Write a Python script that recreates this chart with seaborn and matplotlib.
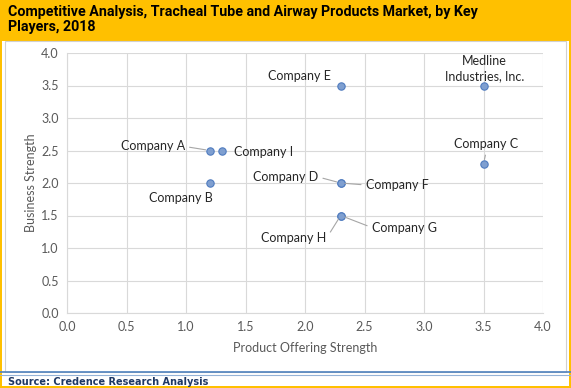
import pandas as pd
import matplotlib
matplotlib.use('Agg')
import matplotlib.pyplot as plt
import seaborn as sns
from matplotlib.patches import Rectangle
from matplotlib.lines import Line2D

# データ
companies = ['Company A', 'Company I', 'Company B', 'Company E', 'Medline\nIndustries, Inc.',
             'Company C', 'Company D', 'Company F', 'Company G', 'Company H']
product_strength = [1.2, 1.3, 1.2, 2.3, 3.5, 3.5, 2.3, 2.3, 2.3, 2.3]
business_strength = [2.5, 2.5, 2.0, 3.5, 3.5, 2.3, 2.0, 2.0, 1.5, 1.5]
ticks = [0.0, 0.5, 1.0, 1.5, 2.0, 2.5, 3.0, 3.5, 4.0]

df = pd.DataFrame({'company': companies, 'x': product_strength, 'y': business_strength})

# ラベルの位置 (pixel offset, ha, leader line relpos)
label_pos = {
    'Company A': (-57, 4, 'center', (1, 0.5)),
    'Company I': (12, -2, 'left', None),
    'Company B': (-29, -15, 'center', None),
    'Company E': (-41, 9, 'center', None),
    'Medline\nIndustries, Inc.': (1, 17, 'center', None),
    'Company C': (3, 19, 'center', (0.5, 0)),
    'Company D': (-55, 6, 'center', (1, 0.5)),
    'Company F': (25, -2, 'left', (0, 0.5)),
    'Company G': (31, -12, 'left', (0, 0.5)),
    'Company H': (-47, -23, 'center', (1, 0.5)),
}

sns.set_style('white')
plt.rcParams['font.family'] = ['Lato', 'DejaVu Sans']

fig = plt.figure(figsize=(5.71, 3.88), dpi=100)

# 背景・枠
fig.patches.append(Rectangle((0, 0), 1, 1, transform=fig.transFigure, facecolor='#FFC000',
                             edgecolor='none', zorder=-3))
fig.patches.append(Rectangle((2 / 571, 2 / 388), 567 / 571, 345 / 388, transform=fig.transFigure,
                             facecolor='white', edgecolor='none', zorder=-2))
fig.patches.append(Rectangle((5 / 571, 16 / 388), 561 / 571, 331 / 388, transform=fig.transFigure,
                             facecolor='white', edgecolor='#D0D0D0', linewidth=0.8, zorder=-1))
fig.lines.append(Line2D([0, 1], [1 - 372 / 388] * 2, transform=fig.transFigure, color='#4F81BD', lw=1.2))
fig.lines.append(Line2D([0, 1], [1 - 374.5 / 388] * 2, transform=fig.transFigure, color='#95B3D7', lw=0.8))

fig.text(8 / 571, 1 - 5 / 388,
         'Competitive Analysis, Tracheal Tube and Airway Products Market, by Key\nPlayers, 2018',
         ha='left', va='top', fontsize=10.3, fontweight='bold', color='black',
         family=['Roboto'], linespacing=1.1)
fig.text(8 / 571, 1 - 382 / 388, 'Source: Credence Research Analysis', ha='left', va='center',
         fontsize=7, fontweight='bold', color='#1F3864', family=['DejaVu Sans'])

ax = fig.add_axes([67 / 571, 75 / 388, 476 / 571, 260 / 388])
ax.set_facecolor('white')

sns.scatterplot(data=df, x='x', y='y', ax=ax, s=28, color='#7F9FD0', edgecolor='#4F7BBF',
                linewidth=0.8, zorder=5)

for name, px, py in zip(companies, product_strength, business_strength):
    dx, dy, ha, rel = label_pos[name]
    arrow = None
    if rel is not None:
        arrow = dict(arrowstyle='-', color='#A6A6A6', lw=0.8, relpos=rel, shrinkA=1, shrinkB=3)
    ax.annotate(name, (px, py), xytext=(dx, dy), textcoords='offset pixels', ha=ha, va='center',
                fontsize=9, color='#262626', arrowprops=arrow, linespacing=1.3, zorder=6)

ax.set_xlim(0, 4)
ax.set_ylim(0, 4)
ax.set_xticks(ticks)
ax.set_yticks(ticks)
ax.set_xticklabels([f'{t:.1f}' for t in ticks])
ax.set_yticklabels([f'{t:.1f}' for t in ticks])
ax.grid(True, color='#D9D9D9', lw=0.8)
ax.tick_params(colors='#595959', labelsize=9, length=0, pad=6)
for side in ['top', 'right']:
    ax.spines[side].set_visible(False)
for side in ['left', 'bottom']:
    ax.spines[side].set_color('#D9D9D9')
    ax.spines[side].set_linewidth(0.8)

ax.set_xlabel('Product Offering Strength', fontsize=9, color='#595959', labelpad=6)
ax.set_ylabel('Business Strength', fontsize=9, color='#595959', labelpad=3)

fig.savefig('out.png', dpi=100)
